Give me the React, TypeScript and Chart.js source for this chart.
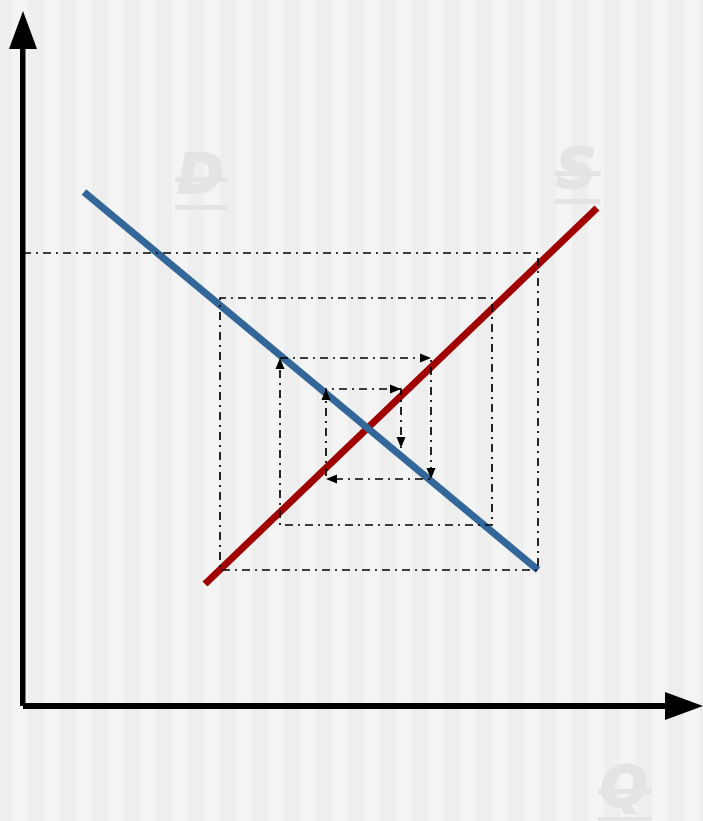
import React, { useEffect, useRef } from "react";
import { Chart, registerables } from "chart.js";

Chart.register(...registerables);

// Data in chart units (quantity on x, price on y)
const demandQ = [6.1, 51.5];
const demandP = [51.4, 13.6];
const supplyQ = [18.2, 57.4];
const supplyP = [12.2, 49.8];
const cobwebQ = [0, 51.5, 51.5, 19.7, 19.7, 46.9, 46.9, 25.7, 25.7, 40.8, 40.8, 30.3, 30.3, 37.8, 37.8];
const cobwebP = [45.3, 45.3, 13.6, 13.6, 40.8, 40.8, 18.1, 18.1, 34.8, 34.8, 22.7, 22.7, 31.7, 31.7, 25.8];
const arrowFrom = 8; // arrowheads on cobweb points from this index on
const labelText = ["D", "S", "Q"];
const labelQ = [15.4, 53.3, 57.7];
const labelP = [51.3, 51.9, -9.9];
const axisTopP = 69.5;
const axisRightQ = 68.0;

const bgPlugin = {
  id: "bg",
  beforeDraw(chart: any) {
    const { ctx, width, height } = chart;
    ctx.save();
    ctx.fillStyle = "#eeeeee";
    ctx.fillRect(0, 0, width, height);
    ctx.fillStyle = "#f4f4f4";
    for (let x = 12; x < width; x += 32) ctx.fillRect(x, 0, 16, height);
    ctx.restore();
  },
  beforeDatasetsDraw(chart: any) {
    const { ctx } = chart;
    const xs = chart.scales.x;
    const ys = chart.scales.y;
    ctx.save();
    ctx.fillStyle = "#e4e4e4";
    ctx.strokeStyle = "#e4e4e4";
    ctx.lineWidth = 2;
    ctx.lineJoin = "round";
    ctx.font = "italic bold 56px 'DejaVu Sans'";
    ctx.textBaseline = "alphabetic";
    labelText.forEach((t, i) => {
      const x = xs.getPixelForValue(labelQ[i]);
      const y = ys.getPixelForValue(labelP[i]);
      const w = ctx.measureText(t).width;
      ctx.fillText(t, x, y);
      ctx.strokeText(t, x, y);
      ctx.fillRect(x - 2, y - 16, w + 6, 5);
      ctx.fillRect(x - 2, y + 12, w + 6, 5);
    });
    // axes
    const ox = xs.getPixelForValue(0);
    const oy = ys.getPixelForValue(0);
    const ty = ys.getPixelForValue(axisTopP);
    const rx = xs.getPixelForValue(axisRightQ);
    ctx.fillStyle = "#000";
    ctx.fillRect(ox - 3, ty + 30, 5.5, oy - ty - 30);
    ctx.fillRect(ox, oy - 3, rx - ox - 30, 6);
    ctx.beginPath();
    ctx.moveTo(ox, ty);
    ctx.lineTo(ox + 14, ty + 38);
    ctx.lineTo(ox - 14, ty + 38);
    ctx.closePath();
    ctx.fill();
    ctx.beginPath();
    ctx.moveTo(rx, oy);
    ctx.lineTo(rx - 38, oy - 14);
    ctx.lineTo(rx - 38, oy + 14);
    ctx.closePath();
    ctx.fill();
    ctx.restore();
  },
  afterDatasetsDraw(chart: any) {
    const { ctx } = chart;
    const xs = chart.scales.x;
    const ys = chart.scales.y;
    ctx.save();
    ctx.fillStyle = "#000";
    for (let i = arrowFrom; i < cobwebQ.length; i++) {
      const x1 = xs.getPixelForValue(cobwebQ[i - 1]);
      const y1 = ys.getPixelForValue(cobwebP[i - 1]);
      const x2 = xs.getPixelForValue(cobwebQ[i]);
      const y2 = ys.getPixelForValue(cobwebP[i]);
      const a = Math.atan2(y2 - y1, x2 - x1);
      const L = 11, H = 4.5;
      ctx.beginPath();
      ctx.moveTo(x2, y2);
      ctx.lineTo(x2 - L * Math.cos(a) - H * Math.sin(a), y2 - L * Math.sin(a) + H * Math.cos(a));
      ctx.lineTo(x2 - L * Math.cos(a) + H * Math.sin(a), y2 - L * Math.sin(a) - H * Math.cos(a));
      ctx.closePath();
      ctx.fill();
    }
    ctx.restore();
  },
};

export default function App() {
  const ref = useRef<HTMLCanvasElement>(null);
  useEffect(() => {
    document.body.style.margin = "0";
    const pts = (q: number[], p: number[]) => q.map((v, i) => ({ x: v, y: p[i] }));
    const chart = new Chart(ref.current!, {
      type: "line",
      data: {
        datasets: [
          {
            data: pts(cobwebQ, cobwebP),
            borderColor: "#000",
            borderWidth: 1.7,
            borderDash: [8, 5, 2, 5],
            pointRadius: 0,
            tension: 0,
            order: 0,
          },
          {
            data: pts(demandQ, demandP),
            borderColor: "#336699",
            borderWidth: 7,
            borderCapStyle: "butt",
            pointRadius: 0,
            order: 1,
          },
          {
            data: pts(supplyQ, supplyP),
            borderColor: "#a00000",
            borderWidth: 7,
            borderCapStyle: "butt",
            pointRadius: 0,
            order: 2,
          },
        ],
      },
      options: {
        animation: false,
        responsive: false,
        maintainAspectRatio: false,
        layout: { padding: 0 },
        plugins: { legend: { display: false }, tooltip: { enabled: false } },
        scales: {
          x: { type: "linear", min: -2.3, max: 68.0, display: false },
          y: { type: "linear", min: -11.5, max: 70.6, display: false },
        },
      },
      plugins: [bgPlugin],
    });
    return () => chart.destroy();
  }, []);
  return (
    <div style={{ position: "fixed", left: 0, top: 0, width: 703, height: 821 }}>
      <canvas ref={ref} width={703} height={821} />
    </div>
  );
}
